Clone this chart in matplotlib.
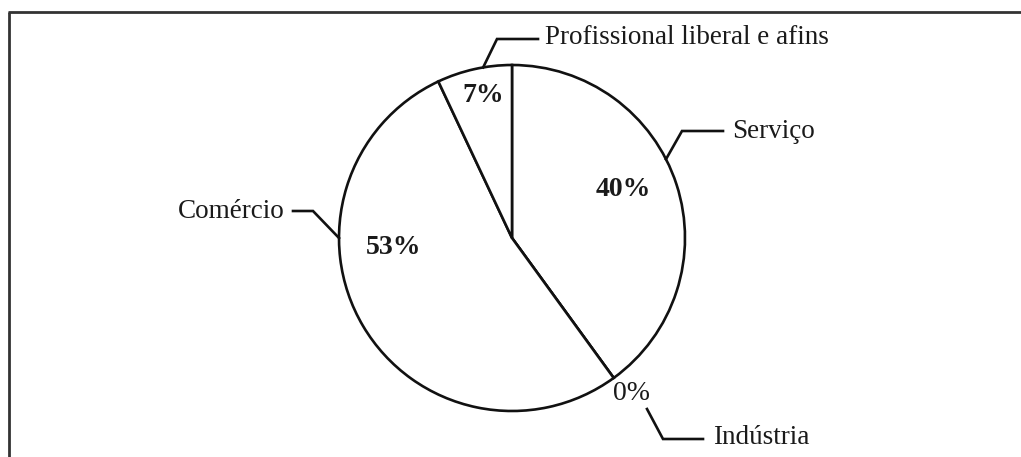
import numpy as np
import matplotlib
matplotlib.use("Agg")
import matplotlib.pyplot as plt

categories = ["Serviço", "Indústria", "Comércio", "Profissional liberal e afins"]
values = [40, 0, 53, 7]
pct_labels = ["40%", "0%", "53%", "7%"]

W, H = 1021, 457
fig = plt.figure(figsize=(W / 100, H / 100), dpi=100)
ax = fig.add_axes([0, 0, 1, 1])

def Y(y):  # image pixel row -> data y
    return H - y

cx, cy, R = 512, Y(238), 173
FONT = "Liberation Serif"
LW = 1.9

ax.pie(values, startangle=90, counterclock=False, center=(cx, cy), radius=R,
       wedgeprops=dict(facecolor="white", edgecolor="#111111", linewidth=LW))
ax.set_xlim(0, W)
ax.set_ylim(0, H)
ax.set_aspect("equal")
ax.axis("off")

# frame (top and left)
ax.plot([8, W], [Y(12), Y(12)], color="#333333", lw=2.0, solid_capstyle="butt")
ax.plot([9, 9], [Y(12), 0], color="#333333", lw=2.0, solid_capstyle="butt")

# percentage labels (positions are layout)
pct_pos = {"40%": (623, 189), "0%": (631, 393), "53%": (394, 247), "7%": (483, 95)}
pct_weight = {"40%": "bold", "0%": "normal", "53%": "bold", "7%": "bold"}
pct_size = {"40%": 20, "0%": 20, "53%": 20, "7%": 20}
for lab in pct_labels:
    x, y = pct_pos[lab]
    ax.text(x, Y(y), lab, ha="center", va="center", fontsize=pct_size[lab],
            family=FONT, weight=pct_weight[lab], color="#1a1a1a")

def on_circle(deg):
    a = np.deg2rad(deg)
    return cx + R * np.cos(a), cy + R * np.sin(a)

lk = dict(color="#111111", lw=LW, solid_joinstyle="miter")
# Serviço
ax1 = on_circle(27.1)
ax.plot([ax1[0], 682, 723], [ax1[1], Y(131), Y(131)], **lk)
ax.text(732, Y(131), categories[0], ha="left", va="center", fontsize=19.5, family=FONT, color="#1a1a1a")
# Indústria
ax.plot([647, 663, 703], [Y(409), Y(439), Y(439)], **lk)
ax.text(713, Y(437), categories[1], ha="left", va="center", fontsize=19.5, family=FONT, color="#1a1a1a")
# Comércio
a3 = on_circle(180)
ax.plot([293, 313, a3[0]], [Y(211), Y(211), a3[1]], **lk)
ax.text(285, Y(211), categories[2], ha="right", va="center", fontsize=19.5, family=FONT, color="#1a1a1a")
# Profissional
a4 = on_circle(99.6)
ax.plot([a4[0], 497, 538], [a4[1], Y(39), Y(39)], **lk)
ax.text(545, Y(38), categories[3], ha="left", va="center", fontsize=19.5, family=FONT, color="#1a1a1a")

fig.savefig("out.png", dpi=100, facecolor="white")
